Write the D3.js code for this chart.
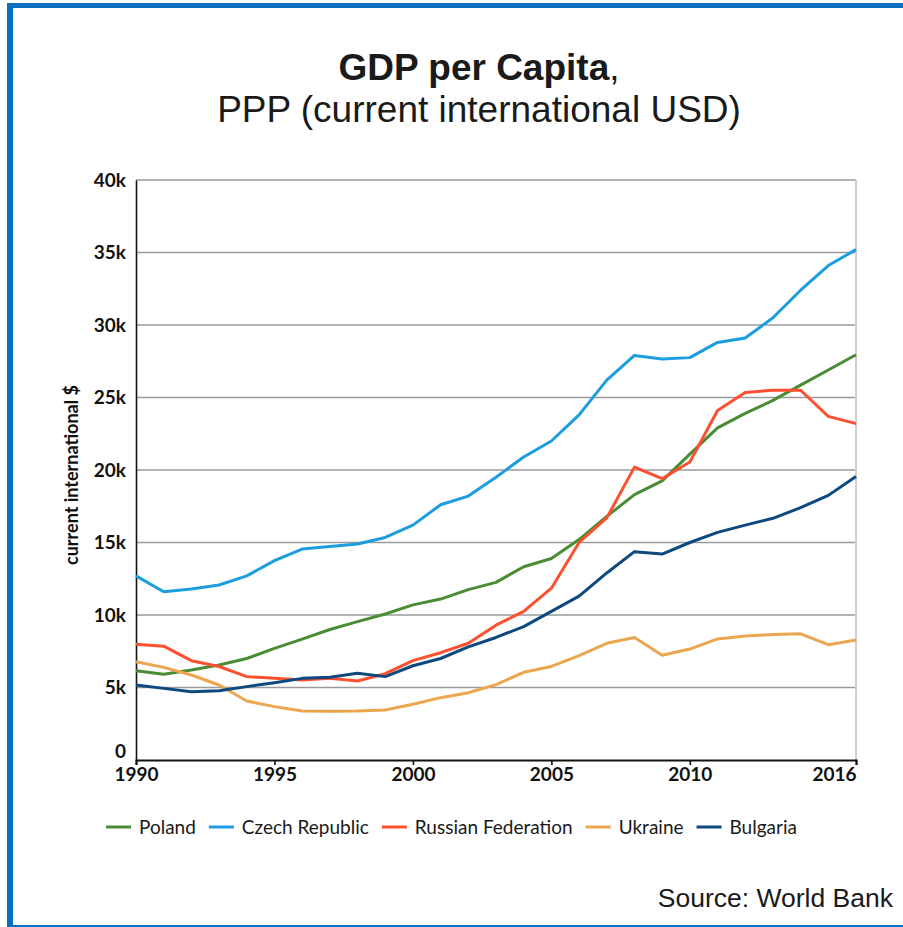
<!DOCTYPE html>
<html>
<head>
<meta charset="utf-8">
<script src="https://cdn.jsdelivr.net/npm/d3@7"></script>
<style>
  html, body { margin: 0; padding: 0; background: #fff; }
  svg { display: block; }
</style>
</head>
<body>
<svg id="chart" width="903" height="927"></svg>
<script>
// GDP per capita, PPP (current international $), thousands
const years = d3.range(1990, 2017);

const poland = [6.16, 5.91, 6.2, 6.55, 7.0, 7.7, 8.34, 9.0, 9.54, 10.07, 10.7, 11.1, 11.75, 12.25, 13.33, 13.9, 15.2, 16.8, 18.3, 19.25, 21.1, 22.9, 23.9, 24.8, 25.85, 26.9, 27.95];
const czech = [12.7, 11.6, 11.8, 12.07, 12.7, 13.75, 14.55, 14.72, 14.9, 15.35, 16.2, 17.6, 18.2, 19.5, 20.9, 22.0, 23.8, 26.2, 27.9, 27.65, 27.75, 28.8, 29.1, 30.5, 32.4, 34.1, 35.2];
const russia = [7.98, 7.85, 6.85, 6.45, 5.75, 5.63, 5.52, 5.63, 5.45, 5.95, 6.85, 7.4, 8.05, 9.3, 10.25, 11.85, 15.0, 16.7, 20.2, 19.4, 20.55, 24.1, 25.35, 25.5, 25.5, 23.7, 23.2];
const ukraine = [6.78, 6.39, 5.86, 5.17, 4.07, 3.68, 3.38, 3.37, 3.38, 3.45, 3.85, 4.3, 4.64, 5.2, 6.05, 6.45, 7.2, 8.05, 8.45, 7.22, 7.65, 8.35, 8.55, 8.65, 8.7, 7.95, 8.28];
const bulgaria = [5.17, 4.94, 4.71, 4.78, 5.06, 5.33, 5.63, 5.7, 5.98, 5.75, 6.5, 7.0, 7.8, 8.45, 9.2, 10.25, 11.3, 12.9, 14.37, 14.2, 15.0, 15.7, 16.2, 16.67, 17.4, 18.25, 19.55];

const seriesNames = ["Poland", "Czech Republic", "Russian Federation", "Ukraine", "Bulgaria"];
const seriesValues = [poland, czech, russia, ukraine, bulgaria];
const seriesColors = ["#4a8c34", "#1b9ddf", "#fd5030", "#eba64f", "#0d487f"];

const yTicks = [0, 5, 10, 15, 20, 25, 30, 35, 40];
const yTickLabels = ["0", "5k", "10k", "15k", "20k", "25k", "30k", "35k", "40k"];
const xTicks = [1990, 1995, 2000, 2005, 2010, 2016];

const tickFont = "Lato, 'Noto Sans', sans-serif";
const titleFont = "'Liberation Sans', Arial, sans-serif";

const svg = d3.select("#chart");

// frame
const frameColor = "#0a6fc2";
svg.append("rect").attr("x", 7).attr("y", 3).attr("width", 896).attr("height", 5).attr("fill", frameColor);
svg.append("rect").attr("x", 7).attr("y", 3).attr("width", 6).attr("height", 924).attr("fill", frameColor);
svg.append("rect").attr("x", 7).attr("y", 925).attr("width", 896).attr("height", 2).attr("fill", frameColor);

// title
const title = svg.append("text")
  .attr("x", 479).attr("y", 80)
  .attr("text-anchor", "middle")
  .attr("font-family", titleFont)
  .attr("font-size", 37)
  .attr("fill", "#1a1a1a");
title.append("tspan").attr("font-weight", "bold").text("GDP per Capita");
title.append("tspan").text(",");

svg.append("text")
  .attr("x", 479).attr("y", 122)
  .attr("text-anchor", "middle")
  .attr("font-family", titleFont)
  .attr("font-size", 37)
  .attr("fill", "#1a1a1a")
  .text("PPP (current international USD)");

// scales
const x = d3.scaleLinear().domain([1990, 2016]).range([136, 856]);
const y = d3.scaleLinear().domain([0, 40]).range([760, 180]);

// gridlines
svg.append("g")
  .selectAll("line")
  .data(yTicks.filter(d => d > 0))
  .join("line")
  .attr("x1", x(1990)).attr("x2", x(2016))
  .attr("y1", d => y(d)).attr("y2", d => y(d))
  .attr("stroke", "#9a9a9a")
  .attr("stroke-width", 1.6);

// right edge of plot
svg.append("line")
  .attr("x1", x(2016)).attr("x2", x(2016))
  .attr("y1", y(40)).attr("y2", y(0))
  .attr("stroke", "#cfcfcf")
  .attr("stroke-width", 2);

// y axis
const yAxis = svg.append("g")
  .attr("transform", `translate(${x(1990)},0)`)
  .call(d3.axisLeft(y).tickValues(yTicks).tickSize(0).tickPadding(10)
    .tickFormat((d, i) => yTickLabels[i]));
yAxis.select(".domain").attr("stroke", "#111").attr("stroke-width", 1.6);
yAxis.selectAll("text")
  .attr("font-family", tickFont)
  .attr("font-weight", "bold")
  .attr("font-size", 19)
  .attr("fill", "#111")
  .attr("dy", d => d === 0 ? "-0.12em" : "0.32em");

// x axis
const xAxis = svg.append("g")
  .attr("transform", `translate(0,${y(0)})`)
  .call(d3.axisBottom(x).tickValues(xTicks).tickSize(5).tickPadding(3)
    .tickFormat(d3.format("d")));
xAxis.select(".domain").attr("stroke", "#111").attr("stroke-width", 2);
xAxis.selectAll(".tick line").attr("stroke", "#111").attr("stroke-width", 1.6);
xAxis.selectAll("text")
  .attr("font-family", tickFont)
  .attr("font-weight", "bold")
  .attr("font-size", 19)
  .attr("fill", "#111")
  .attr("text-anchor", d => d === 2016 ? "end" : "middle");

// y axis title
svg.append("text")
  .attr("transform", `translate(78,475) rotate(-90)`)
  .attr("text-anchor", "middle")
  .attr("font-family", tickFont)
  .attr("font-weight", "bold")
  .attr("font-size", 18)
  .attr("fill", "#111")
  .text("current international $");

// series lines
const line = d3.line()
  .x((d, i) => x(years[i]))
  .y(d => y(d));

svg.append("g")
  .selectAll("path")
  .data(seriesValues)
  .join("path")
  .attr("d", d => line(d))
  .attr("fill", "none")
  .attr("stroke", (d, i) => seriesColors[i])
  .attr("stroke-width", 3)
  .attr("stroke-linejoin", "round");

// legend
const legend = svg.append("g").attr("transform", "translate(106,827)");
let lx = 0;
seriesNames.forEach((name, i) => {
  const g = legend.append("g").attr("transform", `translate(${lx},0)`);
  g.append("line")
    .attr("x1", 0).attr("x2", 25)
    .attr("stroke", seriesColors[i])
    .attr("stroke-width", 3);
  const t = g.append("text")
    .attr("x", 33).attr("y", 0).attr("dy", "0.35em")
    .attr("font-family", tickFont)
    .attr("font-size", 19)
    .attr("fill", "#1a1a1a")
    .text(name);
  lx += 33 + t.node().getComputedTextLength() + 13;
});

// source
svg.append("text")
  .attr("x", 893).attr("y", 907)
  .attr("text-anchor", "end")
  .attr("font-family", titleFont)
  .attr("font-size", 26.5)
  .attr("fill", "#1a1a1a")
  .text("Source: World Bank");
</script>
</body>
</html>
